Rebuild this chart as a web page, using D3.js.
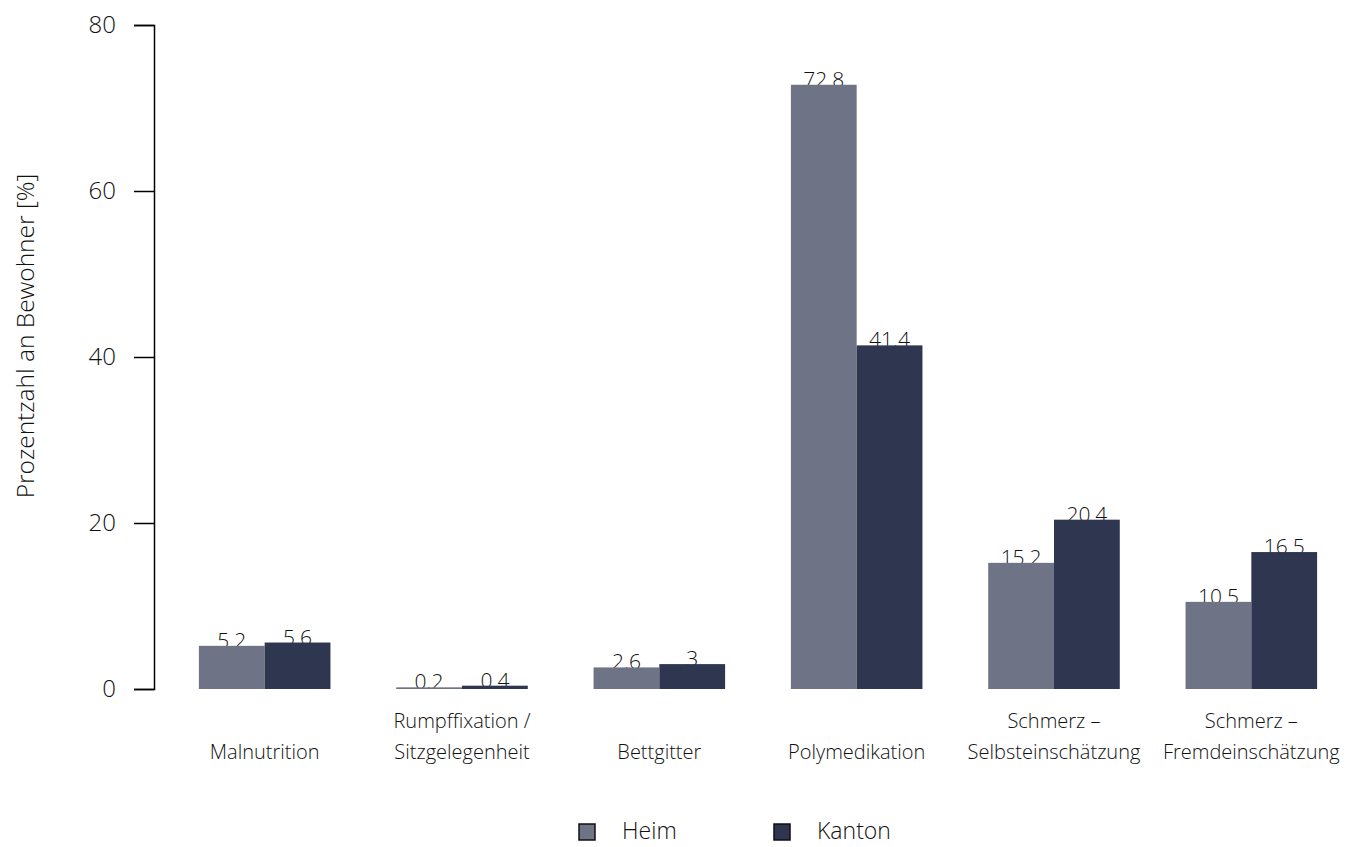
<!DOCTYPE html>
<html><head><meta charset="utf-8">
<script src="https://cdn.jsdelivr.net/npm/d3@7"></script>
<style>body{margin:0;background:#fff;} text{font-family:"Open Sans",sans-serif;font-weight:350;fill:#111;}</style>
</head><body>
<svg id="c" width="1347" height="847"></svg>
<script>
const categories = [["Malnutrition"],["Rumpffixation /","Sitzgelegenheit"],["Bettgitter"],["Polymedikation"],["Schmerz \u2013","Selbsteinsch\u00e4tzung"],["Schmerz \u2013","Fremdeinsch\u00e4tzung"]];
const heim = [5.2, 0.2, 2.6, 72.8, 15.2, 10.5];
const kanton = [5.6, 0.4, 3, 41.4, 20.4, 16.5];
const seriesNames = ["Heim","Kanton"];
const colors = ["#6e7385","#2e374f"];
const yTicks = [0,20,40,60,80];

const svg = d3.select("#c");
const keys = categories.map((c,i)=>i);
const x = d3.scaleBand().domain(keys).range([166,1350]).paddingInner(1/3).paddingOuter(1/6);
const x1 = d3.scaleBand().domain([0,1]).range([0,x.bandwidth()]);
const y = d3.scaleLinear().domain([0,80]).range([689,25]);

// y axis
const ax = svg.append("g").attr("transform","translate(154,0)")
  .call(d3.axisLeft(y).tickValues(yTicks).tickSize(20).tickPadding(18));
ax.select(".domain").attr("stroke","#000").attr("stroke-width",1.5);
ax.selectAll(".tick line").attr("stroke","#000").attr("stroke-width",1.5);
ax.selectAll(".tick text").style("font-size","24px").style("font-family","Open Sans").style("font-weight","350").attr("fill","#111");

svg.append("text").attr("transform","translate(24,336) rotate(-90)")
  .attr("text-anchor","middle").attr("dominant-baseline","central").style("font-size","24.5px").text("Prozentzahl an Bewohner [%]");

const series = [heim, kanton];
series.forEach((vals,s)=>{
  const g = svg.append("g");
  g.selectAll("text").data(vals).enter().append("text")
    .attr("x",(d,i)=>x(i)+x1(s)+x1.bandwidth()/2)
    .attr("y",d=>y(d)+2)
    .attr("text-anchor","middle").style("font-size","21px").text(d=>d);
});
series.forEach((vals,s)=>{
  svg.append("g").selectAll("rect").data(vals).enter().append("rect")
    .attr("x",(d,i)=>x(i)+x1(s)).attr("width",x1.bandwidth())
    .attr("y",d=>y(d)).attr("height",d=>y(0)-y(d)).attr("fill",colors[s]);
});

// category labels
categories.forEach((lines,i)=>{
  const t = svg.append("text").attr("text-anchor","middle").style("font-size","20px");
  const cx = x(i)+x.bandwidth()/2;
  lines.forEach((ln,j)=>{
    const n = lines.length;
    t.append("tspan").attr("x",cx).attr("y",759-(n-1-j)*31).text(ln);
  });
});

// legend
const leg = svg.append("g");
const lx = [579,774];
seriesNames.forEach((n,i)=>{
  leg.append("rect").attr("x",lx[i]).attr("y",824).attr("width",16).attr("height",16)
    .attr("fill",colors[i]).attr("stroke","#111").attr("stroke-width",1.5);
  leg.append("text").attr("x",lx[i]+43).attr("y",839).style("font-size","23px").text(n);
});
</script>
</body></html>
